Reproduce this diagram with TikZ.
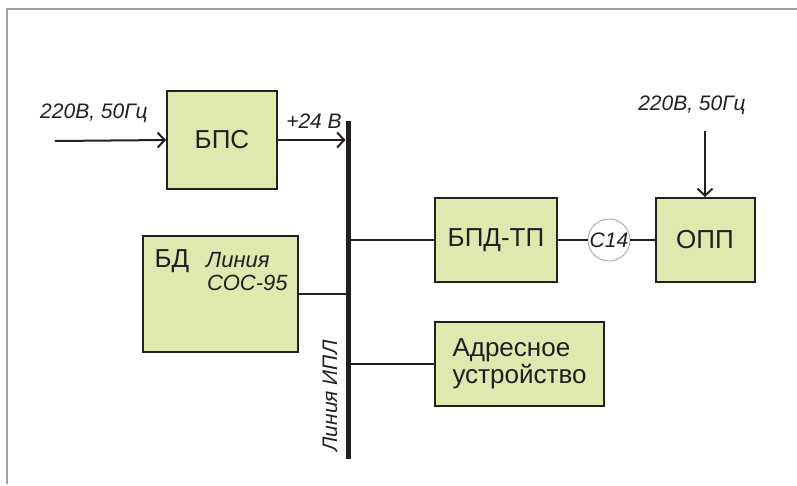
\documentclass[tikz,border=0pt]{standalone}
\usepackage{fontspec}
\setmainfont{Liberation Sans}
\usetikzlibrary{arrows.meta, positioning, calc}

\definecolor{boxgreen}{RGB}{222,233,176}
\definecolor{ink}{RGB}{35,31,32}
\definecolor{framegray}{RGB}{160,160,160}

\begin{document}
\begin{tikzpicture}[
    x=1pt, y=-1pt,
    block/.style={rectangle, draw=ink, line width=2pt, fill=boxgreen, text=ink, inner sep=0pt, font=\fontsize{26}{28}\selectfont},
    note/.style={text=ink, inner sep=0pt, font=\fontsize{21}{23}\selectfont\itshape},
    link/.style={draw=ink, line width=2pt},
    arrow/.style={link, -{Straight Barb[length=7pt,width=15pt,line width=2pt]}}
]
\useasboundingbox (0,0) rectangle (797,485);
\draw[framegray, line width=1.5pt] (7,484) -- (7,9) -- (797,9);

% Blocks
\node [block, minimum width=110pt, minimum height=98pt] (bps) at (222,140) {БПС};
\node [block, minimum width=155pt, minimum height=116pt] (bd) at (220.5,294) {};
\node [block, minimum width=122pt, minimum height=84pt] (bpd) at (496,240) {БПД-ТП};
\node [block, minimum width=99pt, minimum height=84pt] (opp) at (705,240) {ОПП};
\node [block, minimum width=169pt, minimum height=84pt, align=left] (addr) at (519.5,364) {Адресное\\[-1pt]устройство};
\node [circle, draw=framegray, line width=0.8pt, fill=white, minimum size=42pt, inner sep=0pt, note] (c14) at (609,240) {С14};

% Text inside БД
\node [text=ink, inner sep=0pt, font=\fontsize{26}{28}\selectfont] (bdname) at (172,261) {БД};
\node [note, font=\fontsize{22}{23}\selectfont\itshape, align=left, anchor=north west] (bdline) at (206,252) {Линия\\\hspace*{1pt}СОС-95};

% Bus line
\coordinate (bustop) at (348,121);
\coordinate (busbot) at (348,459);
\draw [ink, line width=5pt] (bustop) -- (busbot);
\node [note, rotate=90] (buslabel) at (330,396) {Линия ИПЛ};

% Inputs and labels
\coordinate (in1) at (55,141);
\coordinate (in2) at (705,131);
\node [note] (in1label) at (94,113) {220В, 50Гц};
\node [note] (in2label) at (692,105) {220В, 50Гц};
\node [note] (vlabel) at (314,121) {+24 В};

% Connections
\draw [arrow] (in1) -- (bps.west);
\draw [arrow] (bps.east) -- ($(bustop |- bps.east)+(-2.5,0)$);
\draw [arrow] (in2) -- (opp.north);
\draw [link] (bd.east) -- (bd.east -| bustop);
\draw [link] (bpd.west) -- (bpd.west -| bustop);
\draw [link] (addr.west) -- (addr.west -| bustop);
\draw [link] (bpd.east) -- (c14.west);
\draw [link] (c14.east) -- (opp.west);

\end{tikzpicture}
\end{document}
